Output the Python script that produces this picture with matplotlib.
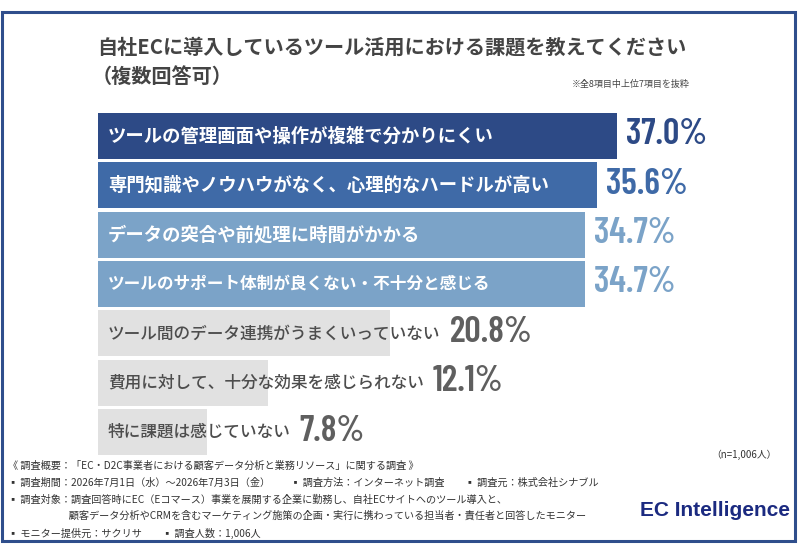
import matplotlib
matplotlib.use("Agg")
import matplotlib.pyplot as plt
from matplotlib import font_manager
from matplotlib.patches import Rectangle
from matplotlib.transforms import offset_copy

plt.rcParams['font.family'] = ['Noto Sans CJK JP', 'DejaVu Sans']

# data
labels = [
    "ツールの管理画面や操作が複雑で分かりにくい",
    "専門知識やノウハウがなく、心理的なハードルが高い",
    "データの突合や前処理に時間がかかる",
    "ツールのサポート体制が良くない・不十分と感じる",
    "ツール間のデータ連携がうまくいっていない",
    "費用に対して、十分な効果を感じられない",
    "特に課題は感じていない",
]
values = [37.0, 35.6, 34.7, 34.7, 20.8, 12.1, 7.8]

# styles
bar_colors = ["#2d4a86", "#3f6aa7", "#7ba3c8", "#7ba3c8", "#e1e1e1", "#e1e1e1", "#e1e1e1"]
text_colors = ["white"] * 4 + ["#4d4d4d"] * 3
pct_colors = ["#2d4a86", "#3f6aa7", "#7ba3c8", "#7ba3c8", "#5f5f5f", "#5f5f5f", "#5f5f5f"]
label_sizes = [13.2, 13.2, 13.2, 12, 12, 12, 12]
label_weights = ["bold"] * 4 + ["medium"] * 3

title = "自社ECに導入しているツール活用における課題を教えてください"
subtitle = "（複数回答可）"
note = "※全8項目中上位7項目を抜粋"
n_text = "（n=1,006人）"
footnotes = [
    "《 調査概要：「EC・D2C事業者における顧客データ分析と業務リソース」に関する調査 》",
    "▪ 調査期間：2026年7月1日（水）～2026年7月3日（金）　　▪ 調査方法：インターネット調査　　▪ 調査元：株式会社シナブル",
    "▪ 調査対象：調査回答時にEC（Eコマース）事業を展開する企業に勤務し、自社ECサイトへのツール導入と、",
    "　　　　　　顧客データ分析やCRMを含むマーケティング施策の企画・実行に携わっている担当者・責任者と回答したモニター",
    "▪ モニター提供元：サクリサ　　▪ 調査人数：1,006人",
]

# condensed font for the percentages
names = {f.name for f in font_manager.fontManager.ttflist}
if "Barlow Condensed" in names:
    pct_font = dict(family="Barlow Condensed", weight=600, size=26)
else:
    pct_font = dict(family="DejaVu Sans", stretch="condensed", weight="bold", size=21)

W, H = 800, 553
fig = plt.figure(figsize=(W / 100, H / 100), dpi=100)
fig.patch.set_facecolor("white")

# outer frame
fig.add_artist(Rectangle((2 / W, 1 - 541 / H), 793 / W, 529 / H, transform=fig.transFigure,
                         fill=False, edgecolor="#2f4e8c", linewidth=2.2))

scale = (617 - 98) / 37.0  # px per percent
ax_left, ax_top, ax_bot = 98, 111.3, 456.7
ax = fig.add_axes([ax_left / W, 1 - ax_bot / H, (W - ax_left) / W, (ax_bot - ax_top) / H])
ax.set_xlim(0, (W - ax_left) / scale)
ax.set_ylim(len(values) - 0.5, -0.5)
ax.axis("off")

ypos = list(range(len(values)))
ax.barh(ypos, values, height=0.93, color=bar_colors)

txts = []
for i, lab in enumerate(labels):
    t = ax.text(0, i, lab, color=text_colors[i], fontsize=label_sizes[i], fontweight=label_weights[i],
                va="center", ha="left",
                transform=offset_copy(ax.transData, fig=fig, x=10, y=0, units="dots"))
    txts.append(t)

fig.canvas.draw()
r = fig.canvas.get_renderer()
inv = ax.transData.inverted()
for i, (v, c) in enumerate(zip(values, pct_colors)):
    ext = txts[i].get_window_extent(r)
    end_px = max(ax.transData.transform((v, i))[0], ext.x1)
    x = inv.transform((end_px, 0))[0]
    ax.text(x, i, f"{v:.1f}%", color=c, va="center", ha="left",
            transform=offset_copy(ax.transData, fig=fig, x=9, y=1, units="dots"), **pct_font)

fig.text(97 / W, 1 - 47 / H, title, fontsize=14.5, fontweight="bold", color="#444444", va="center")
fig.text(92 / W, 1 - 76 / H, subtitle, fontsize=14.5, fontweight="bold", color="#444444", va="center")
fig.text(690 / W, 1 - 84 / H, note, fontsize=6.5, color="#444444", va="center", ha="right")
fig.text(777 / W, 1 - 455 / H, n_text, fontsize=7, color="#333333", va="center", ha="right")

fy = [466, 483, 500, 516, 533]
for s, y in zip(footnotes, fy):
    fig.text(8 / W, 1 - y / H, s, fontsize=7.3, color="#333333", va="center")

fig.text(790 / W, 1 - 511 / H, "EC Intelligence", family="Liberation Sans", fontweight="bold",
         fontsize=15, color="#1b2a80", va="center", ha="right")

fig.savefig("out.png", dpi=100)
